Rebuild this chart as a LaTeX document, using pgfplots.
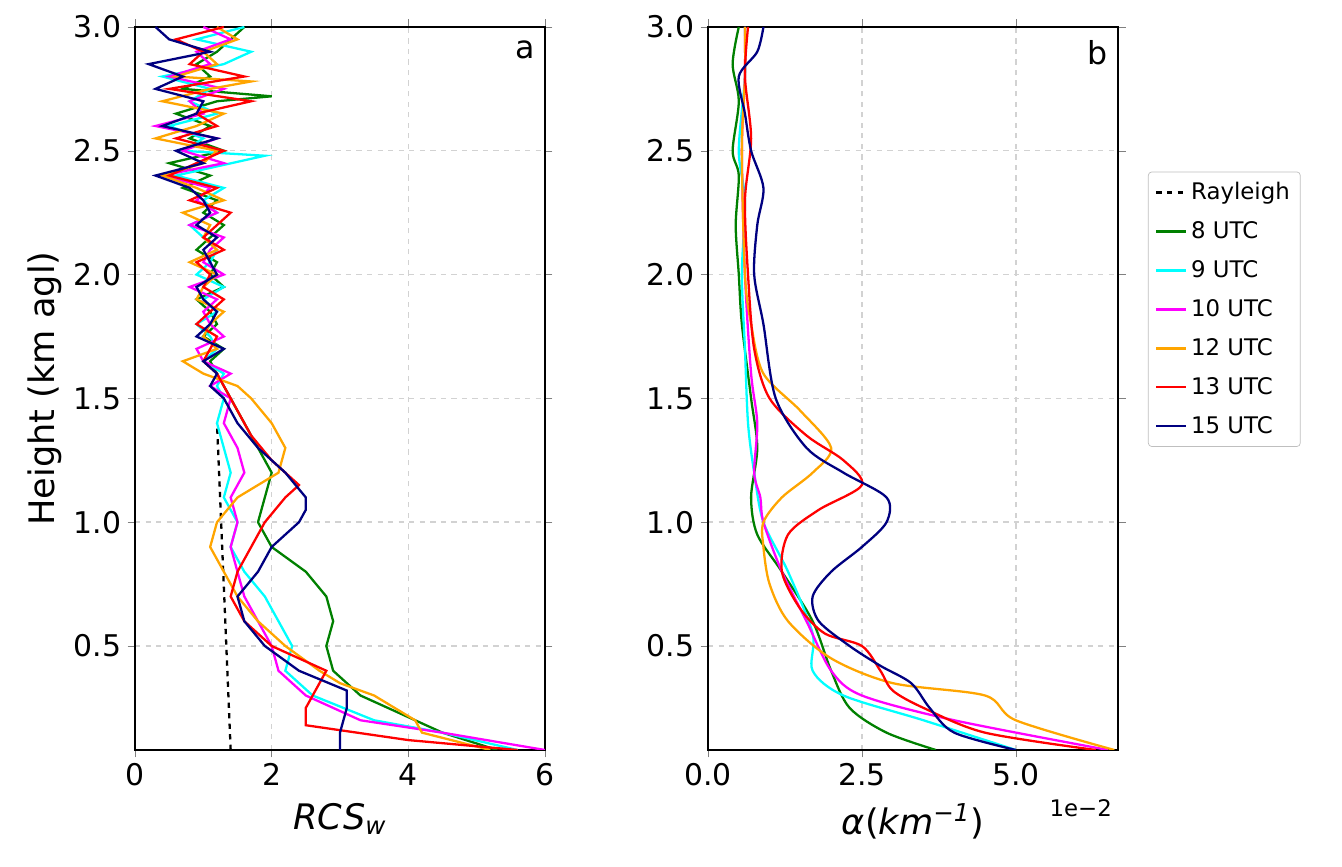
\documentclass[border=0pt]{standalone}
\usepackage{pgfplots}
\pgfplotsset{compat=1.18}
\usepackage{fontspec}
\setmainfont{DejaVu Sans}
\definecolor{mgreen}{RGB}{0,128,0}
\definecolor{mnavy}{RGB}{0,0,128}
\definecolor{morange}{RGB}{255,165,0}
\definecolor{mcyan}{RGB}{0,255,255}
\definecolor{mmag}{RGB}{255,0,255}
\pgfplotsset{every axis/.style={scale only axis, width=82mm, height=144.6mm,
  ymin=0.08, ymax=3.0, ytick={0.5,1.0,1.5,2.0,2.5,3.0},
  yticklabel style={/pgf/number format/.cd,fixed,fixed zerofill,precision=1},
  /pgf/number format/assume math mode=true,
  tick label style={font=\fontsize{17}{19}\selectfont},
  label style={font=\fontsize{20}{22}\selectfont},
  grid=major, grid style={dashed, gray!35, line width=0.8pt},
  tick align=outside, axis line style={line width=0.8pt}, clip mode=individual,
  every axis plot/.append style={line width=1.3pt, no marks}}}
\begin{document}
\begin{tikzpicture}[x=1mm,y=1mm]
\useasboundingbox (0,0) rectangle (268.4,173.4);
\begin{axis}[at={(27mm,23.4mm)}, xmin=0, xmax=6, xtick={0,2,4,6},
  ylabel={Height (km agl)}, xlabel={\textit{RCS}\textsubscript{\textit{w}}},
  xlabel style={yshift=-1mm}]
\node[anchor=north east, font=\fontsize{18}{20}\selectfont] at (rel axis cs:0.99,0.99) {a};
\addplot[black, dashed] coordinates {(1.4,0.08) (1.2,1.4)};
\addplot[mgreen] coordinates {(5.3,0.08)(4.5,0.15)(4.1,0.2)(3.3,0.3)(2.9,0.4)(2.8,0.5)(2.9,0.6)(2.8,0.7)(2.5,0.8)(2.0,0.9)(1.8,1.0)(1.9,1.1)(2.0,1.2)(1.8,1.3)(1.6,1.4)(1.4,1.5)
(1.3,1.55)(1.2,1.6)(1.1,1.65)(1.3,1.7)(1.0,1.75)(1.2,1.8)(1.1,1.85)(0.9,1.9)(1.3,1.95)(1.1,2.0)(1.2,2.05)(0.9,2.1)(1.1,2.15)(1.3,2.2)(1.0,2.25)(1.2,2.3)(0.7,2.35)(1.1,2.4)(0.5,2.45)(1.3,2.5)(0.8,2.55)(1.1,2.6)(0.6,2.65)(1.2,2.7)(2.0,2.72)(0.7,2.75)(1.1,2.8)(0.9,2.85)(1.2,2.9)(1.4,2.95)(1.6,3.0)};
\addplot[mcyan] coordinates {(5.6,0.08)(4.5,0.15)(3.5,0.2)(2.6,0.3)(2.2,0.4)(2.3,0.5)(2.1,0.6)(1.9,0.7)(1.6,0.8)(1.4,0.9)(1.5,1.0)(1.3,1.1)(1.4,1.2)(1.3,1.3)(1.2,1.4)(1.3,1.5)
(1.2,1.55)(1.3,1.6)(1.0,1.65)(1.2,1.7)(1.1,1.75)(0.9,1.8)(1.2,1.85)(1.0,1.9)(1.3,1.95)(0.9,2.0)(1.1,2.05)(1.2,2.1)(1.0,2.15)(0.8,2.2)(1.2,2.25)(1.0,2.3)(1.3,2.35)(0.6,2.4)(1.9,2.48)(0.7,2.5)(1.0,2.55)(0.5,2.6)(1.2,2.65)(0.8,2.7)(1.1,2.75)(0.4,2.8)(1.3,2.85)(1.7,2.9)(0.9,2.95)(1.6,3.0)};
\addplot[mmag] coordinates {(6.0,0.08)(4.5,0.15)(3.3,0.2)(2.5,0.3)(2.1,0.4)(2.0,0.5)(1.8,0.6)(1.6,0.7)(1.5,0.8)(1.4,0.9)(1.5,1.0)(1.4,1.1)(1.6,1.2)(1.5,1.3)(1.3,1.4)(1.4,1.5)
(1.1,1.55)(1.4,1.6)(1.0,1.65)(0.9,1.7)(1.3,1.75)(1.1,1.8)(1.0,1.85)(1.2,1.9)(0.8,1.95)(1.3,2.0)(1.0,2.05)(1.1,2.1)(1.3,2.15)(0.8,2.2)(1.2,2.25)(0.9,2.3)(1.1,2.35)(0.4,2.4)(1.3,2.45)(0.7,2.5)(1.2,2.55)(0.3,2.6)(1.0,2.65)(0.8,2.7)(1.3,2.75)(0.5,2.8)(1.1,2.85)(0.9,2.9)(1.4,2.95)(1.0,3.0)};
\addplot[morange] coordinates {(5.2,0.08)(4.2,0.15)(4.1,0.2)(3.5,0.3)(3.0,0.35)(2.7,0.4)(2.2,0.5)(1.8,0.6)(1.5,0.7)(1.3,0.8)(1.1,0.9)(1.2,1.0)(1.5,1.1)(2.1,1.2)(2.2,1.3)(2.0,1.4)(1.7,1.5)
(1.5,1.55)(1.0,1.6)(0.7,1.65)(1.2,1.7)(1.0,1.75)(1.1,1.8)(1.3,1.85)(0.9,1.9)(1.0,1.95)(1.2,2.0)(0.8,2.05)(1.2,2.1)(1.0,2.15)(1.1,2.2)(0.7,2.25)(1.3,2.3)(0.9,2.35)(0.4,2.4)(1.0,2.45)(1.2,2.5)(0.3,2.55)(0.9,2.6)(1.3,2.65)(0.4,2.7)(1.1,2.75)(1.7,2.78)(0.6,2.8)(1.2,2.85)(1.0,2.9)(1.5,2.95)(1.2,3.0)};
\addplot[red] coordinates {(5.6,0.08)(4.0,0.12)(2.5,0.18)(2.5,0.25)(2.6,0.3)(2.8,0.4)(2.0,0.5)(1.6,0.6)(1.4,0.7)(1.5,0.8)(1.7,0.9)(1.9,1.0)(2.2,1.1)(2.4,1.15)(2.0,1.25)(1.7,1.35)(1.4,1.5)
(1.3,1.55)(1.2,1.6)(1.0,1.65)(1.1,1.7)(1.2,1.75)(0.9,1.8)(1.1,1.85)(1.3,1.9)(1.0,1.95)(1.1,2.0)(0.9,2.05)(1.3,2.1)(1.0,2.15)(1.2,2.2)(1.4,2.25)(0.8,2.3)(1.2,2.35)(0.5,2.4)(0.9,2.45)(1.3,2.5)(0.6,2.55)(1.2,2.6)(0.9,2.65)(1.7,2.7)(0.5,2.75)(1.6,2.8)(0.8,2.85)(1.0,2.9)(0.6,2.95)(1.3,3.0)};
\addplot[mnavy] coordinates {(3.0,0.08)(3.0,0.15)(3.1,0.25)(3.1,0.32)(2.4,0.4)(1.9,0.5)(1.6,0.6)(1.5,0.7)(1.8,0.8)(2.0,0.9)(2.4,1.0)(2.5,1.05)(2.5,1.1)(2.2,1.2)(1.8,1.3)(1.5,1.4)(1.3,1.5)
(1.1,1.55)(1.2,1.6)(1.0,1.65)(1.3,1.7)(0.9,1.75)(1.1,1.8)(1.2,1.85)(1.0,1.9)(0.9,1.95)(1.2,2.0)(1.1,2.05)(1.0,2.1)(1.2,2.15)(0.9,2.2)(1.1,2.25)(1.0,2.3)(0.8,2.35)(0.3,2.4)(1.0,2.45)(0.6,2.5)(1.2,2.55)(0.4,2.6)(0.9,2.65)(1.0,2.7)(0.3,2.75)(0.7,2.8)(0.2,2.85)(1.1,2.9)(0.5,2.95)(0.3,3.0)};
\end{axis}
\begin{axis}[at={(141.6mm,23.4mm)}, xmin=0, xmax=6.66, xtick={0,2.5,5},
  xticklabel style={/pgf/number format/.cd,fixed,fixed zerofill,precision=1},
  xlabel={\textit{α}(\textit{km}\textsuperscript{\textit{−1}})}, xlabel style={yshift=-1mm},
  every axis plot/.append style={smooth},
  legend cell align=left, legend style={at={(1.073,0.80)}, anchor=north west,
    font=\fontsize{13}{15}\selectfont, draw=gray!50, rounded corners=2pt, row sep=7pt, inner sep=4pt}]
\node[anchor=north east, font=\fontsize{18}{20}\selectfont] at (rel axis cs:0.99,0.99) {b};
\node[anchor=north east, font=\fontsize{13}{15}\selectfont] at (rel axis cs:1.0,-0.06) {1e−2};
\addlegendimage{black, dashed, line width=1.3pt}\addlegendentry{Rayleigh}
\addplot[mgreen] coordinates {(3.7,0.08)(2.9,0.15)(2.3,0.25)(2.0,0.4)(1.7,0.6)(1.2,0.8)(0.8,0.95)(0.7,1.1)(0.8,1.3)(0.7,1.5)(0.55,1.8)(0.5,2.0)(0.45,2.2)(0.5,2.4)(0.4,2.5)(0.5,2.7)(0.4,2.85)(0.5,3.0)};
\addlegendentry{8 UTC}
\addplot[mcyan] coordinates {(5.0,0.08)(3.5,0.2)(2.2,0.3)(1.7,0.4)(1.7,0.55)(1.3,0.8)(0.9,1.0)(0.75,1.2)(0.65,1.4)(0.6,1.7)(0.55,2.0)(0.6,2.3)(0.5,2.5)(0.6,2.8)(0.6,3.0)};
\addlegendentry{9 UTC}
\addplot[mmag] coordinates {(6.5,0.08)(4.0,0.2)(2.5,0.3)(2.0,0.4)(1.6,0.6)(1.2,0.8)(0.9,1.0)(0.85,1.1)(0.75,1.2)(0.8,1.4)(0.7,1.6)(0.6,2.0)(0.55,2.5)(0.6,2.8)(0.6,3.0)};
\addlegendentry{10 UTC}
\addplot[morange] coordinates {(6.6,0.08)(5.0,0.2)(4.5,0.3)(3.0,0.35)(2.0,0.45)(1.3,0.6)(1.0,0.75)(0.9,0.9)(0.9,1.0)(1.2,1.1)(1.7,1.2)(2.0,1.3)(1.5,1.45)(0.9,1.6)(0.7,1.8)(0.6,2.0)(0.55,2.5)(0.6,2.8)(0.6,3.0)};
\addlegendentry{12 UTC}
\addplot[red] coordinates {(6.3,0.08)(4.5,0.15)(3.5,0.25)(3.0,0.32)(2.8,0.4)(2.5,0.5)(1.9,0.55)(1.5,0.65)(1.2,0.8)(1.3,0.95)(1.8,1.05)(2.5,1.15)(2.2,1.25)(1.6,1.35)(1.0,1.5)(0.75,1.7)(0.65,2.0)(0.6,2.3)(0.7,2.55)(0.6,2.8)(0.65,3.0)};
\addlegendentry{13 UTC}
\addplot[mnavy] coordinates {(5.0,0.08)(4.0,0.15)(3.6,0.25)(3.3,0.35)(2.8,0.42)(2.3,0.5)(1.8,0.6)(1.7,0.7)(2.0,0.8)(2.5,0.9)(2.9,1.0)(2.9,1.1)(2.2,1.2)(1.6,1.3)(1.1,1.5)(0.9,1.8)(0.75,2.0)(0.8,2.2)(0.9,2.35)(0.7,2.5)(0.6,2.65)(0.5,2.8)(0.8,2.9)(0.9,3.0)};
\addlegendentry{15 UTC}
\end{axis}
\end{tikzpicture}
\end{document}
